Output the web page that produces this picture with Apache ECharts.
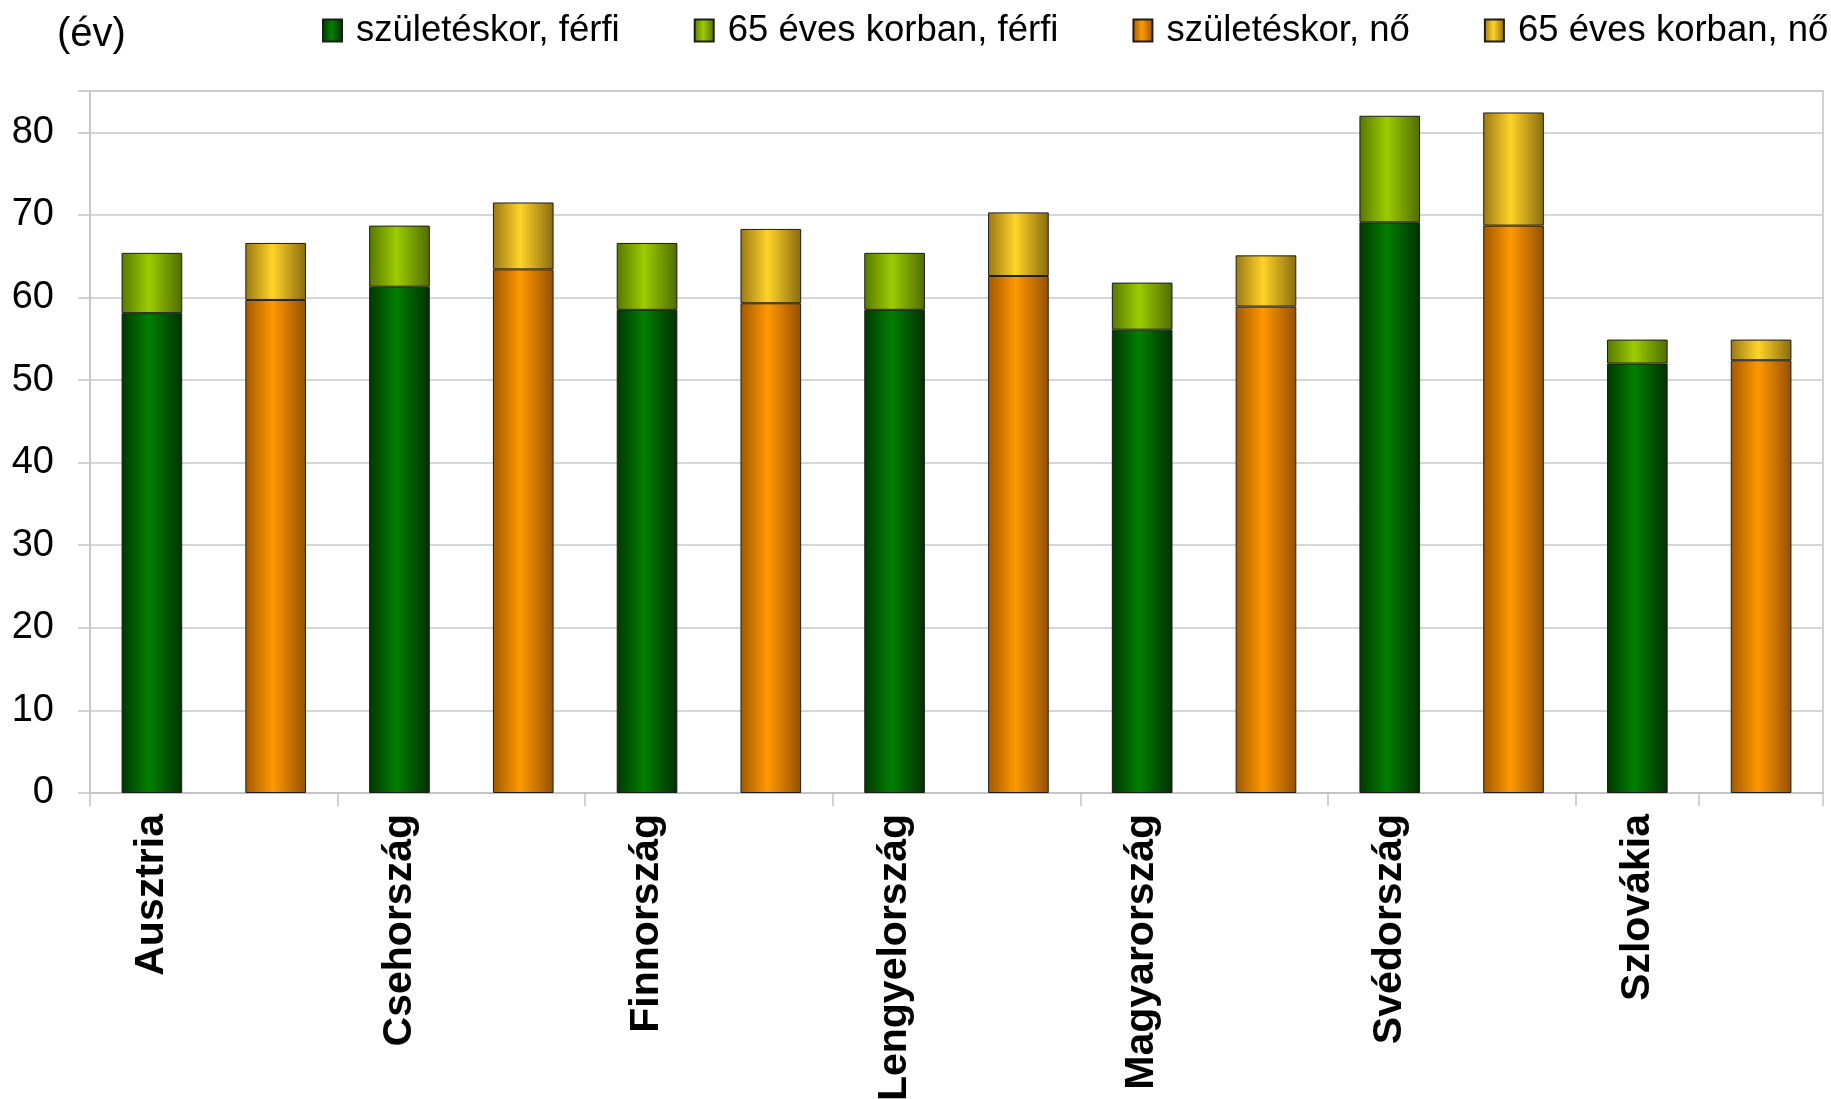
<!DOCTYPE html>
<html>
<head>
<meta charset="utf-8">
<script src="https://cdn.jsdelivr.net/npm/echarts@6/dist/echarts.min.js"></script>
<style>
  html, body { margin: 0; padding: 0; background: #ffffff; }
  #chart { width: 1831px; height: 1099px; }
</style>
</head>
<body>
<div id="chart"></div>
<script>
// Countries shown along the category axis
const countries = ['Ausztria', 'Csehország', 'Finnország', 'Lengyelország', 'Magyarország', 'Svédország', 'Szlovákia'];

// Lower segment of each stack: years at birth
const atBirthMale   = [58.1, 61.3, 58.5, 58.5, 56.1, 69.1, 52.0];
const atBirthFemale = [59.7, 63.4, 59.3, 62.6, 58.9, 68.7, 52.4];

// Upper segment of each stack: years at age 65
const at65Male   = [7.3, 7.4, 8.1, 6.9, 5.7, 12.9, 2.9];
const at65Female = [6.9, 8.1, 9.0, 7.7, 6.2, 13.7, 2.5];

// Value axis ticks
const yTicks = [0, 10, 20, 30, 40, 50, 60, 70, 80];

const seriesNames = ['születéskor, férfi', '65 éves korban, férfi', 'születéskor, nő', '65 éves korban, nő'];

// Every country gets two slots: male bar on the left, female bar on the right
const slots = [];
countries.forEach(c => { slots.push(c, ''); });

function toSlots(values, offset) {
  const out = new Array(countries.length * 2).fill('-');
  values.forEach((v, i) => { out[i * 2 + offset] = v; });
  return out;
}

function shade(edgeL, mid, edgeR) {
  return new echarts.graphic.LinearGradient(0, 0, 1, 0, [
    { offset: 0, color: edgeL },
    { offset: 0.45, color: mid },
    { offset: 1, color: edgeR }
  ]);
}

const fills = [
  shade('#003800', '#008000', '#003000'),
  shade('#567800', '#9ccc00', '#4f6c00'),
  shade('#a05800', '#ff9900', '#945000'),
  shade('#9a7814', '#ffd428', '#8a6a10')
];

const chart = echarts.init(document.getElementById('chart'), null, { renderer: 'canvas' });

const font = 'Liberation Sans, Arial, sans-serif';

function bar(name, values, offset, fill) {
  return {
    name: name,
    type: 'bar',
    stack: 'all',
    barWidth: '49%',
    data: toSlots(values, offset),
    itemStyle: { color: fill, borderColor: '#1c1c1c', borderWidth: 1 },
    emphasis: { disabled: true },
    animation: false
  };
}

chart.setOption({
  backgroundColor: '#ffffff',
  animation: false,
  title: {
    text: '(év)',
    left: 52,
    top: 10,
    textStyle: { fontFamily: font, fontSize: 40, fontWeight: 'normal', color: '#000' }
  },
  legend: {
    left: 317,
    top: 7,
    width: 1700,
    itemWidth: 19,
    itemHeight: 22,
    itemGap: 74,
    icon: 'rect',
    data: seriesNames,
    textStyle: { fontFamily: font, fontSize: 36.5, color: '#000', padding: [0, 0, 0, 9] }
  },
  grid: {
    left: 90,
    right: 8,
    top: 91,
    bottom: 306,
    outerBoundsMode: 'none',
    containLabel: false,
    show: true,
    borderColor: '#c4c4c4',
    borderWidth: 1.5,
    backgroundColor: 'transparent'
  },
  xAxis: {
    type: 'category',
    data: slots,
    boundaryGap: true,
    axisLine: { show: true, lineStyle: { color: '#c4c4c4', width: 2 } },
    axisTick: { show: true, interval: 1, length: 13, alignWithLabel: false, lineStyle: { color: '#c4c4c4', width: 1.5 } },
    axisLabel: {
      interval: 0,
      rotate: 90,
      margin: 21,
      fontFamily: font,
      fontSize: 41,
      fontWeight: 'bold',
      color: '#000'
    },
    splitLine: { show: false }
  },
  yAxis: {
    type: 'value',
    min: yTicks[0],
    max: 85,
    interval: 10,
    axisLine: { show: true, lineStyle: { color: '#c4c4c4', width: 1.5 } },
    axisTick: { show: true, length: 12, lineStyle: { color: '#c4c4c4', width: 1.5 } },
    axisLabel: {
      margin: 36,
      fontFamily: font,
      fontSize: 38,
      color: '#000',
      formatter: v => (yTicks.indexOf(v) >= 0 ? String(v) : '')
    },
    splitLine: { show: true, lineStyle: { color: '#c8c8c8', width: 1.5 } }
  },
  series: [
    bar(seriesNames[0], atBirthMale, 0, fills[0]),
    bar(seriesNames[1], at65Male, 0, fills[1]),
    bar(seriesNames[2], atBirthFemale, 1, fills[2]),
    bar(seriesNames[3], at65Female, 1, fills[3])
  ]
});
</script>
</body>
</html>
